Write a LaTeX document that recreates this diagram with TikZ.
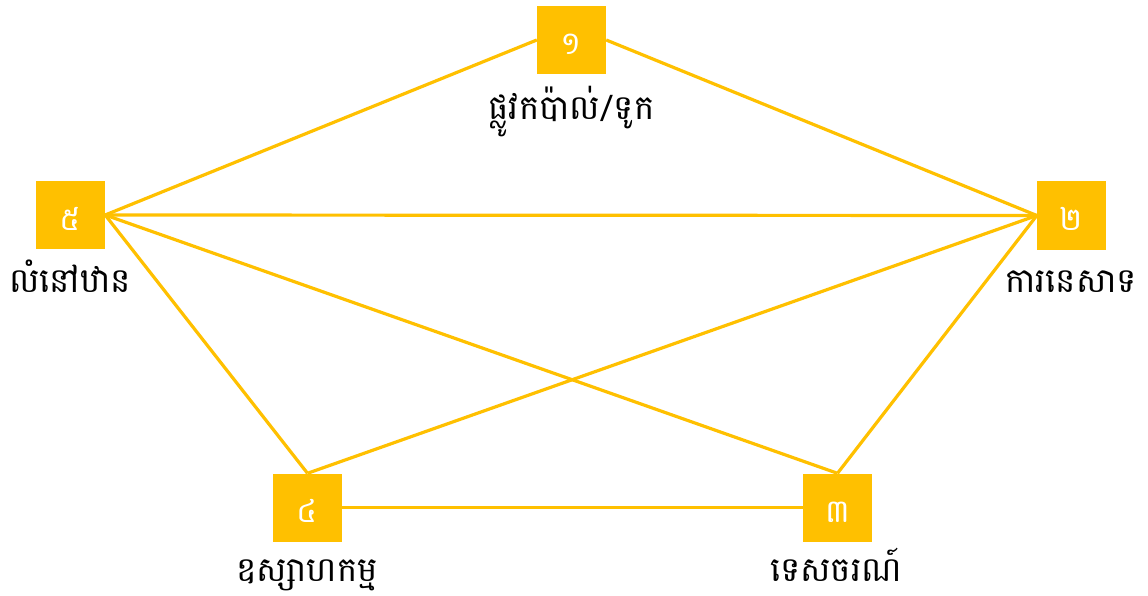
\documentclass[tikz,border=0pt]{standalone}
\usepackage{fontspec}
\newfontfamily\khmer[Script=Khmer]{Battambang}
\definecolor{gold}{HTML}{FFC000}
\tikzset{
  numbox/.style={fill=gold, minimum width=69pt, minimum height=68pt, inner sep=0pt},
  digit/.style={anchor=base, inner sep=0pt, text=white, font=\khmer\fontsize{32pt}{36pt}\selectfont},
  lbl/.style={anchor=base, font=\khmer\fontsize{34pt}{40pt}\selectfont, inner sep=0pt, text=black},
  link/.style={draw=gold, line width=3.2pt}
}
\begin{document}
\begin{tikzpicture}[x=1pt,y=-1pt]
\useasboundingbox (0,0) rectangle (1148,596);
\node[numbox] (b1) at (571.5,40) {};
\node[numbox] (b5) at (70.5,215) {};
\node[numbox] (b2) at (1071.5,215.5) {};
\node[numbox] (b4) at (307.5,507.5) {};
\node[numbox] (b3) at (837.5,507.5) {};
\node[digit] (d1) at (571.5,55) {១};
\node[digit] (d5) at (70.5,230) {៥};
\node[digit] (d2) at (1071.5,230.5) {២};
\node[digit] (d4) at (307.5,522.5) {៤};
\node[digit] (d3) at (837.5,522.5) {៣};
\draw[link] (b1.west) -- (b5.east);
\draw[link] (b1.east) -- (b2.west);
\draw[link] (b5.east) -- (b2.west);
\draw[link] (b5.east) -- (b4.north);
\draw[link] (b5.east) -- (b3.north);
\draw[link] (b2.west) -- (b4.north);
\draw[link] (b2.west) -- (b3.north);
\draw[link] (b4.east) -- (b3.west);
\node[lbl] (l1) at (571.5,120) {ផ្លូវកប៉ាល់/ទូក};
\node[lbl] (l5) at (70,292) {លំនៅឋាន};
\node[lbl] (l2) at (1071,292) {ការនេសាទ};
\node[lbl] (l4) at (307,581) {ឧស្សាហកម្ម};
\node[lbl] (l3) at (836,581) {ទេសចរណ៍};
\end{tikzpicture}
\end{document}
